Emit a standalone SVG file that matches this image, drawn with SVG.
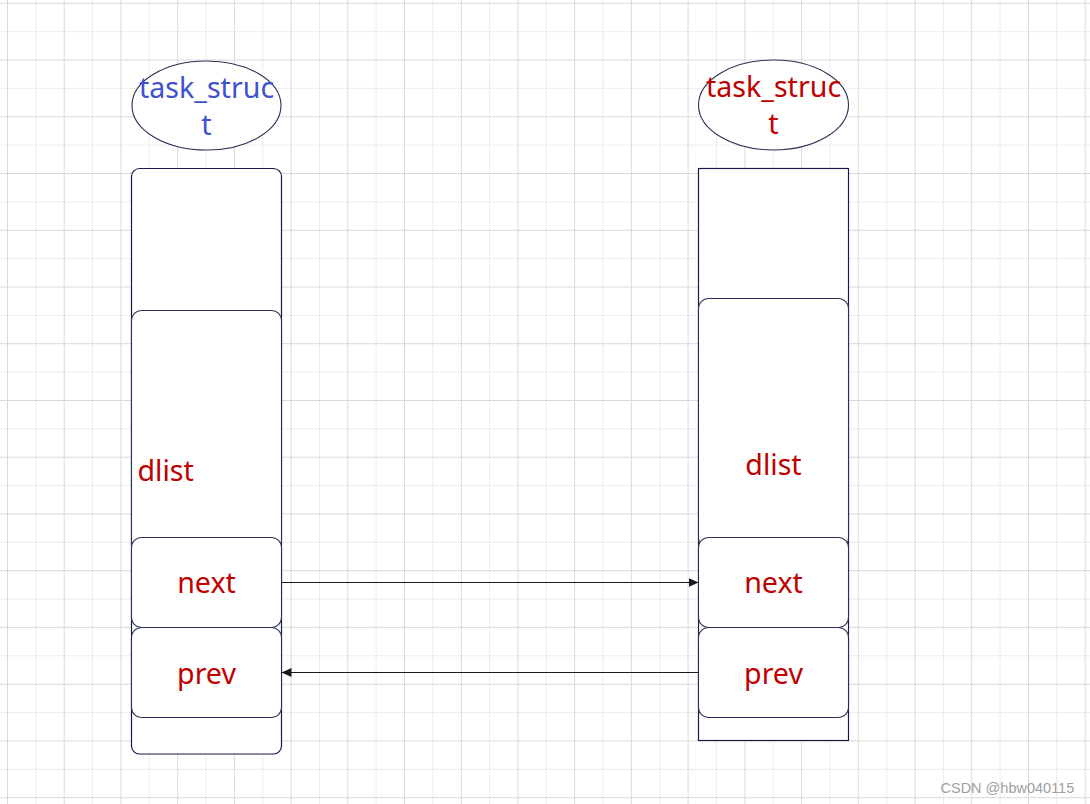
<svg xmlns="http://www.w3.org/2000/svg" width="1090" height="804" viewBox="0 0 1090 804">
<defs>
<style>
.gd{stroke:#d9d9d9;stroke-width:1;fill:none}
.gl{stroke:#ececec;stroke-width:1;fill:none}
.outer{fill:#ffffff;stroke:#141a4a;stroke-width:1.2}
.inner{fill:#ffffff;stroke:#2a2f58;stroke-width:1.1}
.ell{fill:#ffffff;stroke:#2a2f58;stroke-width:1.1}
.lbl{font-family:"Noto Sans","Open Sans",sans-serif;font-size:28.6px;fill:#c00000}
.blue{fill:#3f51cf}
.c{text-anchor:middle}
.conn{stroke:#1a1a1a;stroke-width:1;fill:none}
.wm{font-family:"Liberation Sans",Arial,sans-serif;font-size:14.5px;fill:#a0a0a0}
</style>
<marker id="ah" markerUnits="userSpaceOnUse" markerWidth="11" markerHeight="10" refX="10" refY="4.5" orient="auto">
<path d="M0,0 L10,4.5 L0,9 z" fill="#1a1a1a"/>
</marker>
</defs>
<rect width="1090" height="804" fill="#ffffff"/>
<g id="grid">
<path class="gl" d="M35.9,0V804M92.6,0V804M149.3,0V804M206,0V804M262.7,0V804M319.5,0V804M376.2,0V804M432.9,0V804M489.6,0V804M546.3,0V804M603.1,0V804M659.8,0V804M716.5,0V804M773.2,0V804M829.9,0V804M886.7,0V804M943.4,0V804M1000.1,0V804M1056.8,0V804"/>
<path class="gl" d="M0,31.7H1090M0,88.4H1090M0,145.2H1090M0,201.9H1090M0,258.6H1090M0,315.4H1090M0,372.1H1090M0,428.9H1090M0,485.6H1090M0,542.3H1090M0,599.1H1090M0,655.8H1090M0,712.6H1090M0,769.3H1090"/>
<path class="gd" d="M7.5,0V804M64.2,0V804M120.9,0V804M177.7,0V804M234.4,0V804M291.1,0V804M347.8,0V804M404.5,0V804M461.3,0V804M518,0V804M574.7,0V804M631.4,0V804M688.1,0V804M744.9,0V804M801.6,0V804M858.3,0V804M915,0V804M971.7,0V804M1028.5,0V804M1085.2,0V804"/>
<path class="gd" d="M0,3.3H1090M0,60H1090M0,116.8H1090M0,173.5H1090M0,230.3H1090M0,287H1090M0,343.7H1090M0,400.5H1090M0,457.2H1090M0,514H1090M0,570.7H1090M0,627.4H1090M0,684.2H1090M0,740.9H1090M0,797.7H1090"/>
</g>
<g id="left-title">
<ellipse class="ell" cx="206.5" cy="105.5" rx="74.5" ry="44.5"/>
<text class="lbl blue c" x="206.5" y="98">task_struc</text>
<text class="lbl blue c" x="206.5" y="135">t</text>
</g>
<g id="left-struct">
<rect class="outer" x="131.5" y="168.5" width="150" height="585.5" rx="8"/>
</g>
<g id="left-dlist">
<rect class="inner" x="131.5" y="310.5" width="150" height="240" rx="10"/>
<text class="lbl" x="137.5" y="481">dlist</text>
</g>
<g id="left-next">
<rect class="inner" x="131.5" y="537.5" width="150" height="90" rx="10"/>
<text class="lbl c" x="206.5" y="593">next</text>
</g>
<g id="left-prev">
<rect class="inner" x="131.5" y="627.5" width="150" height="90" rx="10"/>
<text class="lbl c" x="206.5" y="683.5">prev</text>
</g>
<g id="right-title">
<ellipse class="ell" cx="773.5" cy="105" rx="75" ry="45"/>
<text class="lbl c" x="773.5" y="97">task_struc</text>
<text class="lbl c" x="773.5" y="134">t</text>
</g>
<g id="right-struct">
<rect class="outer" x="698.5" y="168.5" width="150" height="572"/>
</g>
<g id="right-dlist">
<rect class="inner" x="698.5" y="298.5" width="150" height="250" rx="10"/>
<text class="lbl c" x="773.5" y="475">dlist</text>
</g>
<g id="right-next">
<rect class="inner" x="698.5" y="537.5" width="150" height="90" rx="10"/>
<text class="lbl c" x="773.5" y="593">next</text>
</g>
<g id="right-prev">
<rect class="inner" x="698.5" y="627.5" width="150" height="90" rx="10"/>
<text class="lbl c" x="773.5" y="683.5">prev</text>
</g>
<g id="connectors">
<path class="conn" d="M281.5,582.5H698.5" marker-end="url(#ah)"/>
<path class="conn" d="M698.5,672.5H281.5" marker-end="url(#ah)"/>
</g>
<text class="wm" x="940.5" y="793">CSDN @hbw040115</text>
</svg>
